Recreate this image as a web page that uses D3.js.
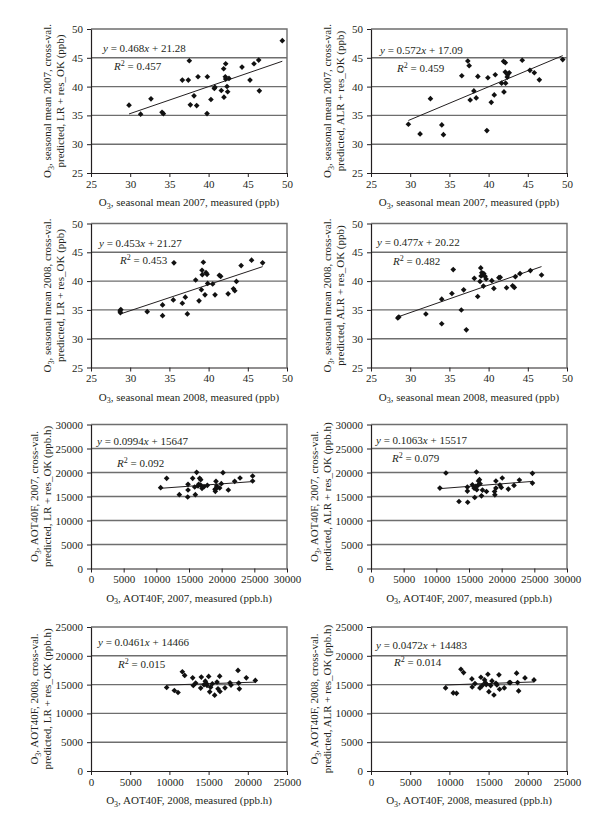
<!DOCTYPE html>
<html><head><meta charset="utf-8">
<script src="https://cdn.jsdelivr.net/npm/d3@7"></script>
<style>
body{margin:0;background:#fff}
svg{display:block}
text{font-family:"Liberation Serif","Times New Roman",serif;fill:#231f20}
</style>
</head><body>
<svg id="c" width="600" height="829"></svg>
<script>
// ---------- DATA ----------
const mean2007LR_x = [29.85,31.33,32.65,34.06,34.23,36.65,37.41,37.54,37.67,38.14,38.48,38.65,39.84,39.8,40.3,40.73,40.8,41.62,41.92,41.96,42.18,42.13,42.18,42.35,42.43,42.6,44.26,45.28,45.79,46.39,46.47,49.4];
const mean2007LR_y = [36.78,35.21,37.88,35.55,35.3,41.13,41.13,44.49,36.83,38.4,36.7,41.71,41.71,35.32,37.76,39.67,39.9,39.33,43.1,38.17,43.97,41.71,41.3,40.02,39.1,41.42,43.39,41.13,43.97,44.6,39.27,47.97];

const mean2007ALR_x = [29.77,31.26,32.58,34.03,34.24,36.58,37.35,37.52,37.65,38.12,38.42,38.63,39.78,39.91,40.34,40.72,40.85,41.66,41.96,41.91,42.13,42.13,42.17,42.38,42.42,42.63,44.29,45.27,45.83,46.47,49.45];
const mean2007ALR_y = [33.47,31.78,37.91,33.35,31.66,41.88,44.45,43.63,37.67,39.25,38.03,41.77,32.36,41.53,37.27,38.55,42.06,40.6,39.08,44.39,44.16,42.52,40.6,41.65,42.06,42.41,44.57,42.82,42.41,41.18,44.69];

const mean2008LR_x = [28.71,28.8,28.75,32.17,34.13,34.13,35.5,35.58,36.65,37.03,37.29,38.35,38.78,39.08,39.16,39.2,39.33,39.54,39.67,39.8,39.88,40.52,40.82,41.37,41.54,42.49,43.17,43.34,43.55,44.15,45.48,46.89];
const mean2008LR_y = [34.81,35.05,34.52,34.7,35.86,34.0,36.74,43.17,36.16,37.21,34.3,40.19,36.57,38.5,41.88,41.12,43.28,37.62,41.47,41.18,39.6,39.49,37.62,41.0,40.83,37.79,38.67,38.32,39.95,42.7,43.63,43.17];

const mean2008ALR_x = [28.42,28.55,32.0,34.02,34.02,35.32,35.49,36.52,36.82,37.16,38.18,38.61,38.91,39.0,39.04,39.13,39.26,39.34,39.38,39.55,39.68,40.41,40.67,41.31,41.48,42.29,43.06,43.28,43.41,44.01,45.33,46.75];
const mean2008ALR_y = [33.59,33.76,34.29,36.86,32.59,37.85,42.0,34.99,38.49,31.54,40.48,37.33,39.95,42.29,40.89,41.47,41.06,39.14,41.3,40.83,40.36,40.07,38.73,40.6,40.65,38.84,39.19,38.9,40.77,41.3,41.82,41.06];

const aot2007LR_x = [10660,11580,13520,14800,14850,14850,15560,15870,15970,16170,16380,16480,16630,16790,16790,16990,17300,17810,18980,19030,19130,19230,19690,19950,20200,21020,21990,22810,24740,24740,19130];
const aot2007LR_y = [16840,18780,15380,14900,16350,17530,18780,16980,15380,20030,17190,17530,18780,18500,17390,16700,17050,17330,16490,16080,18160,17190,16770,17670,19960,16350,18160,18850,19270,18230,16630];

const aot2007ALR_x = [10540,11470,13470,14750,14750,14800,15520,15780,15880,16140,16190,16350,16450,16600,16700,16910,17060,17680,18910,18960,19120,19120,19730,19940,20090,21020,21890,22710,24710,24710,16040];
const aot2007ALR_y = [16750,19900,13950,16960,16120,13810,17450,16750,14790,20100,16400,17310,18220,18500,17660,15140,16330,16050,16050,15350,18220,16750,17380,16890,18850,16540,17310,18430,19830,17800,17100];

const aot2008LR_x = [9650,10630,11100,11650,11950,12970,13050,13350,13990,14070,14580,14710,14800,15010,15140,15260,15480,15770,16070,16200,16410,16450,17090,17730,17860,18750,18840,18920,19810,20960,14410];
const aot2008LR_y = [14500,13980,13630,17230,16590,16180,14850,15260,14390,16300,15600,15200,14850,16420,13750,14560,15140,13170,15430,14270,16470,13800,14440,15310,14910,17460,15260,14270,16180,15720,14970];

const aot2008ALR_x = [9510,10490,10910,11470,11810,12870,12910,13260,13890,14020,14490,14570,14700,14910,15040,15260,15430,15680,15940,16060,16320,16400,17000,17640,17770,18570,18700,18830,19640,20790,14190];
const aot2008ALR_y = [14420,13550,13490,17670,17090,15990,14590,15170,14420,16280,15810,15350,15000,16800,13780,14830,15640,13200,15230,14940,16690,14190,14420,15350,15350,16980,15350,13900,16160,15810,14830];

const slopes     = [0.468, 0.572, 0.453, 0.477, 0.0994, 0.1063, 0.0461, 0.0472];
const intercepts = [21.28, 17.09, 21.27, 20.22, 15647, 15517, 14466, 14483];
const slopeLabels = ["0.468","0.572","0.453","0.477","0.0994","0.1063","0.0461","0.0472"];
const interceptLabels = ["21.28","17.09","21.27","20.22","15647","15517","14466","14483"];
const r2Labels   = ["0.457","0.459","0.453","0.482","0.092","0.079","0.015","0.014"];

const meanTicks   = [25,30,35,40,45,50];
const aot2007Ticks = [0,5000,10000,15000,20000,25000,30000];
const aot2008Ticks = [0,5000,10000,15000,20000,25000];

const xTitles = [
  ", seasonal mean 2007, measured (ppb)", ", seasonal mean 2007, measured (ppb)",
  ", seasonal mean 2008, measured (ppb)", ", seasonal mean 2008, measured (ppb)",
  ", AOT40F, 2007, measured (ppb.h)", ", AOT40F, 2007, measured (ppb.h)",
  ", AOT40F, 2008, measured (ppb.h)", ", AOT40F, 2008, measured (ppb.h)"];
const yTitles1 = [
  ", seasonal mean 2007, cross-val.", ", seasonal mean 2007, cross-val.",
  ", seasonal mean 2008, cross-val.", ", seasonal mean 2008, cross-val.",
  ", AOT40F, 2007, cross-val.", ", AOT40F, 2007, cross-val.",
  ", AOT40F, 2008, cross-val.", ", AOT40F, 2008, cross-val."];
const yTitles2 = [
  "predicted, LR + res_OK (ppb)", "predicted, ALR + res_OK (ppb)",
  "predicted, LR + res_OK (ppb)", "predicted, ALR + res_OK (ppb)",
  "predicted, LR + res_OK (ppb.h)", "predicted, ALR + res_OK (ppb.h)",
  "predicted, LR + res_OK (ppb.h)", "predicted, ALR + res_OK (ppb.h)"];

const seriesX = [mean2007LR_x, mean2007ALR_x, mean2008LR_x, mean2008ALR_x, aot2007LR_x, aot2007ALR_x, aot2008LR_x, aot2008ALR_x];
const seriesY = [mean2007LR_y, mean2007ALR_y, mean2008LR_y, mean2008ALR_y, aot2007LR_y, aot2007ALR_y, aot2008LR_y, aot2008ALR_y];
const seriesTicks = [meanTicks, meanTicks, meanTicks, meanTicks, aot2007Ticks, aot2007Ticks, aot2008Ticks, aot2008Ticks];

// ---------- LAYOUT ----------
const colLeft = [91, 371];
const rowTop = [29, 223.5, 424.5, 627];
const W = 196, H = 144;
// label offsets [eqDx, eqDy, r2Dx, r2Dy] relative to plot top-left (text centers)
const labelOff = [[12,19,23,37],[9,21,26,39],[8,19,29,36],[6,18,22,37],
                  [6,16,26,38],[5,15,21,33],[7,15,27,37],[5,18,23,35]];
const FS = 11;

const svg = d3.select("#c");

function addO3(textSel, rest){
  textSel.append("tspan").text("O");
  textSel.append("tspan").attr("font-size", 8).attr("dy", 2.5).text("3");
  textSel.append("tspan").attr("dy", -2.5).text(rest);
}

for (let i = 0; i < 8; i++){
  const col = i % 2, row = Math.floor(i / 2);
  const L = colLeft[col], T = rowTop[row];
  const ticks = seriesTicks[i];
  const dom = [ticks[0], ticks[ticks.length-1]];
  const x = d3.scaleLinear().domain(dom).range([L, L + W]);
  const y = d3.scaleLinear().domain(dom).range([T + H, T]);
  const g = svg.append("g");

  // gridlines
  g.selectAll("line.grid").data(ticks.slice(1, -1)).enter().append("line")
    .attr("x1", L).attr("x2", L + W)
    .attr("y1", d => y(d)).attr("y2", d => y(d))
    .attr("stroke", "#6e6e6e").attr("stroke-width", 1.4);
  // frame top & right
  g.append("path").attr("d", `M${L},${T}H${L+W}V${T+H}`)
    .attr("fill", "none").attr("stroke", "#6e6e6e").attr("stroke-width", 1.4);

  // axes
  const ax = g.append("g").attr("transform", `translate(0,${T+H})`)
    .call(d3.axisBottom(x).tickValues(ticks).tickSize(4).tickSizeOuter(0).tickFormat(d3.format("d")).tickPadding(3));
  const ay = g.append("g").attr("transform", `translate(${L},0)`)
    .call(d3.axisLeft(y).tickValues(ticks).tickSize(4).tickSizeOuter(0).tickFormat(d3.format("d")).tickPadding(4));
  [ax, ay].forEach(a => {
    a.selectAll("path.domain").attr("stroke", "#231f20").attr("stroke-width", 1.2);
    a.selectAll(".tick line").attr("stroke", "#231f20").attr("stroke-width", 1);
    a.selectAll("text").attr("font-size", FS).attr("fill", "#231f20")
      .style("font-family", '"Liberation Serif","Times New Roman",serif');
  });

  // trend line
  const xs = seriesX[i], ys = seriesY[i];
  const ext = d3.extent(xs);
  const line = d3.line().x(d => x(d)).y(d => y(slopes[i] * d + intercepts[i]));
  g.append("path").datum(ext).attr("d", line)
    .attr("fill", "none").attr("stroke", "#231f20").attr("stroke-width", 1);

  // points
  const sym = d3.symbol().type(d3.symbolSquare).size(16);
  g.selectAll("path.pt").data(d3.range(xs.length)).enter().append("path")
    .attr("d", sym)
    .attr("transform", k => `translate(${x(xs[k])},${y(ys[k])}) rotate(45)`)
    .attr("fill", "#111");

  // equation
  const o = labelOff[i];
  const eq = g.append("text").attr("x", L + o[0]).attr("y", T + o[1] + 4).attr("font-size", FS);
  eq.append("tspan").attr("font-style", "italic").text("y");
  eq.append("tspan").text(" = " + slopeLabels[i]);
  eq.append("tspan").attr("font-style", "italic").text("x");
  eq.append("tspan").text(" + " + interceptLabels[i]);
  const r2 = g.append("text").attr("x", L + o[2]).attr("y", T + o[3] + 4).attr("font-size", FS);
  r2.append("tspan").attr("font-style", "italic").text("R");
  r2.append("tspan").attr("font-size", 8).attr("dy", -4).text("2");
  r2.append("tspan").attr("dy", 4).text(" = " + r2Labels[i]);

  // x title
  const xt = g.append("text").attr("x", L + W / 2).attr("y", T + H + 33)
    .attr("text-anchor", "middle").attr("font-size", FS);
  addO3(xt, xTitles[i]);

  // y titles
  const big = ticks[ticks.length - 1] > 1000;
  const off1 = big ? 57 : 44, off2 = big ? 44 : 31;
  const cy = T + H / 2;
  const yt1 = g.append("text").attr("transform", `translate(${L - off1 + 4},${cy}) rotate(-90)`)
    .attr("text-anchor", "middle").attr("font-size", FS);
  addO3(yt1, yTitles1[i]);
  const yt2 = g.append("text").attr("transform", `translate(${L - off2 + 4},${cy}) rotate(-90)`)
    .attr("text-anchor", "middle").attr("font-size", FS);
  yt2.text(yTitles2[i]);
}
</script>
</body></html>
